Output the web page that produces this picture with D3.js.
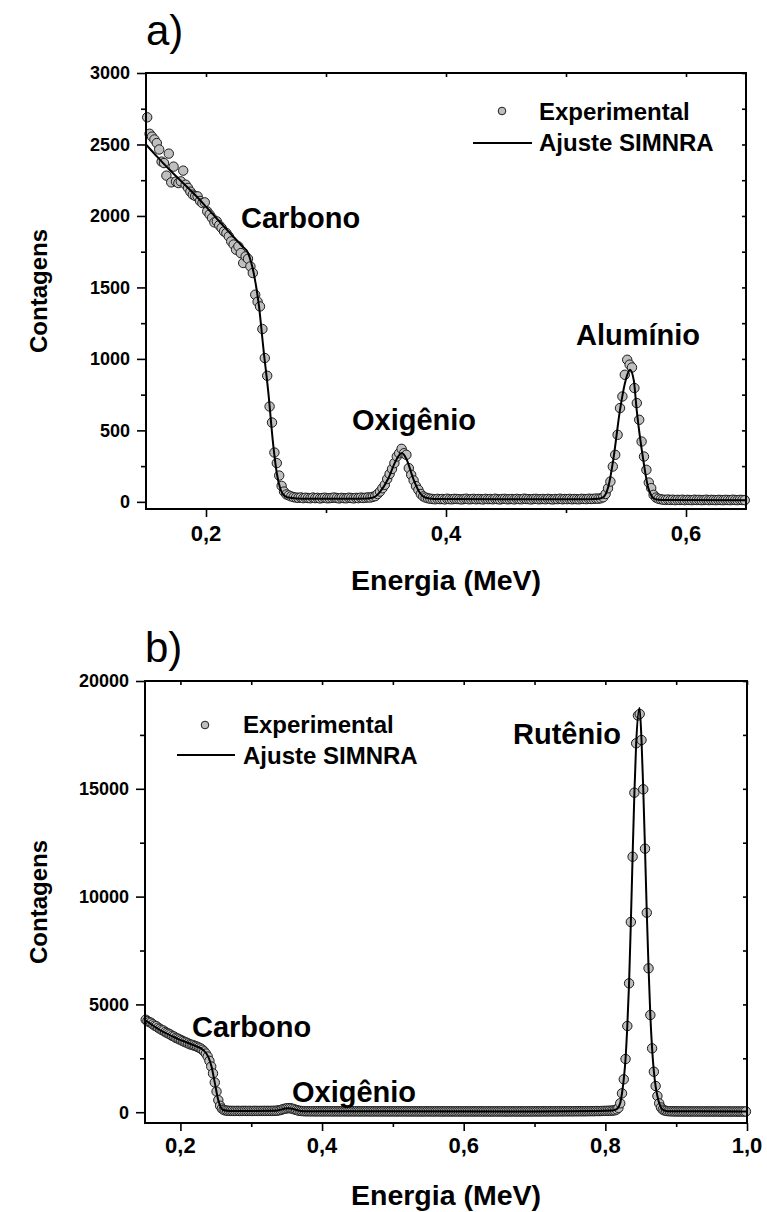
<!DOCTYPE html>
<html>
<head>
<meta charset="utf-8">
<script src="https://cdn.jsdelivr.net/npm/d3@7"></script>
<style>
  body { margin: 0; background: #fff; }
  svg { display: block; font-family: "Liberation Sans", Arial, Helvetica, sans-serif; }
</style>
</head>
<body>
<svg id="chart" width="767" height="1212"></svg>
<script>
// ---------- Spectrum a) : RBS counts per channel ----------
// channel energy calibration (MeV): E = start + step * channel
const specA_E0 = 0.151;
const specA_dE = 0.002;
const specA_counts = [
  2690, 2575, 2555, 2535, 2510, 2465, 2380, 2370, 2282, 2436,
  2235, 2345, 2240, 2230, 2242, 2317, 2219, 2196, 2170, 2149,
  2140, 2137, 2105, 2090, 2095, 2032, 2010, 1986, 1955, 1962,
  1935, 1916, 1892, 1880, 1857, 1822, 1800, 1764, 1787, 1740,
  1671, 1717, 1700, 1647, 1601, 1449, 1400, 1367, 1209, 1006,
  882, 667, 555, 345, 271, 184, 112, 72, 52, 45,
  38, 33, 30, 28, 31, 26, 29, 27, 25, 30,
  26, 28, 24, 27, 29, 25, 26, 28, 30, 27,
  24, 28, 26, 25, 29, 27, 24, 28, 26, 30,
  27, 29, 31, 30, 35,
  40, 55, 72, 95, 119,
  160, 195, 230, 271, 317, 340, 371, 340, 329, 236,
  189, 150, 110, 84, 55, 38, 30, 25, 22, 20,
  18, 21, 19, 20, 17, 22, 19, 18, 21, 20,
  19, 17, 20, 22, 18, 19, 21, 18, 20, 19,
  17, 21, 19, 20, 18, 22, 19, 17, 20, 21,
  18, 19, 20, 17, 21, 19, 18, 22, 20, 19,
  17, 20, 21, 18, 19, 20, 18, 21, 19, 17,
  20, 19, 22, 18, 20, 19, 21, 18, 20, 19,
  18, 21, 20, 19, 22, 20, 21, 23, 22,
  25, 32, 55, 95, 142, 247, 329, 469, 656, 737, 889,
  994, 960, 940, 796, 691, 574, 422, 317, 224, 135, 96, 49, 30, 22,
  18, 15, 14, 16, 13, 15,
  12, 14, 13, 15, 12, 14, 13, 12, 15, 13,
  14, 12, 13, 15, 12, 14, 13, 12, 14, 13,
  12, 14, 13, 12, 15, 13, 12, 14, 13, 12
];
// SIMNRA simulation a)
const fitA_E = [0.150, 0.160, 0.170, 0.180, 0.190, 0.200, 0.210, 0.220, 0.230, 0.235,
  0.240, 0.244, 0.248, 0.252, 0.256, 0.259, 0.262, 0.265, 0.270, 0.280,
  0.300, 0.320, 0.335, 0.340, 0.345, 0.352, 0.358, 0.3631, 0.367, 0.3728,
  0.378, 0.3825, 0.390, 0.450, 0.520, 0.527, 0.531, 0.5353, 0.5394, 0.545,
  0.550, 0.5533, 0.5565, 0.5589, 0.5644, 0.5686, 0.5742, 0.580, 0.650];
const fitA_counts = [2500, 2408, 2320, 2238, 2155, 2065, 1972, 1880, 1790, 1741,
  1590, 1380, 1060, 760, 400, 200, 90, 45, 28, 22,
  22, 22, 24, 32, 70, 165, 285, 341, 300, 160,
  65, 30, 20, 19, 19, 22, 32, 107, 294, 644,
  860, 924, 850, 644, 294, 96, 19, 13, 12];

// ---------- Spectrum b) ----------
const specB_E0 = 0.151;
const specB_dE = 0.0025;
const specB_counts = [
  4290, 4230, 4180, 4150, 4080, 4020, 3990, 3920, 3870, 3820,
  3790, 3720, 3680, 3640, 3600, 3540, 3510, 3450, 3420, 3380,
  3340, 3300, 3260, 3230, 3190, 3150, 3130, 3100, 3070, 3040,
  3000, 2960, 2900, 2820, 2720, 2580, 2380, 2120, 1800, 1380,
  960, 560, 300, 170, 110, 80, 70, 65, 60, 62,
  58, 60, 63, 57, 61, 59, 62, 58, 60, 61,
  57, 60, 62, 59, 58, 61, 60, 63, 59, 62,
  60, 62, 63, 66, 70, 85, 100, 125, 150, 170,
  185, 190, 180, 160, 130, 105, 80, 65, 55, 50,
  46, 44, 45, 43, 42, 44, 41, 43, 42, 40,
  42, 41, 43, 40, 42, 41, 39, 42, 40, 41,
  40, 42, 39, 41, 40, 38, 41, 40, 39, 42,
  40, 38, 41, 39, 40, 42, 38, 40, 39, 41,
  39, 40, 38, 41, 39, 40, 37, 39, 40, 38,
  40, 39, 37, 40, 38, 39, 41, 38, 39, 37,
  39, 38, 40, 37, 39, 38, 36, 39, 38, 40,
  37, 39, 38, 36, 38, 40, 37, 38, 36, 39,
  38, 37, 39, 36, 38, 37, 39, 36, 38, 37,
  36, 38, 37, 39, 36, 37, 38, 36, 39, 37,
  38, 36, 37, 38, 35, 37, 36, 38, 37, 36,
  37, 38, 36, 37, 35, 38, 36, 37, 38, 36,
  37, 35, 38, 36, 37, 39, 36, 38, 37, 39,
  38, 40, 37, 39, 41, 38, 40, 39, 42, 40,
  41, 43, 40, 42, 44, 41, 43, 45, 42, 44,
  46, 43, 45, 47, 44, 46, 48, 45, 47, 49,
  48, 50, 52, 49, 53, 55, 52, 56, 58, 60,
  62, 65, 68, 72, 80,
  90, 130, 200, 413, 876, 1526, 2467, 3998, 5979, 8822, 11850, 14820, 17110, 18400, 18470,
  17263, 14977, 12222, 9253, 6674, 4508, 2963, 1878, 1215, 751, 413, 220, 120, 80,
  60, 50, 45, 42, 40, 38,
  37, 36, 38, 35, 36, 37, 35, 36, 34, 36,
  35, 34, 36, 35, 33, 35, 34, 36, 33, 35,
  34, 33, 35, 34, 32, 34, 33, 35, 32, 34,
  33, 32, 34, 33, 31, 33, 32, 34, 31, 33
];
const fitB_E = [0.150, 0.171, 0.1947, 0.218, 0.2322, 0.2392, 0.244, 0.2487, 0.2534, 0.2605,
  0.270, 0.300, 0.335, 0.342, 0.348, 0.353, 0.358, 0.364, 0.370, 0.380,
  0.500, 0.700, 0.790, 0.810, 0.816, 0.821, 0.8235, 0.826, 0.8285, 0.831,
  0.8335, 0.836, 0.8385, 0.841, 0.8435, 0.8483, 0.851, 0.8535, 0.856, 0.8585,
  0.861, 0.8635, 0.866, 0.8685, 0.871, 0.8735, 0.876, 0.8785, 0.881, 0.888, 1.000];
const fitB_counts = [4277, 3813, 3428, 3117, 2885, 2574, 2110, 1340, 566, 102,
  62, 60, 70, 120, 170, 185, 160, 105, 60, 45,
  40, 37, 55, 75, 140, 430, 880, 1530, 2480, 4000,
  6000, 8800, 11900, 14800, 17100, 18750, 17300, 15000, 12200, 9250,
  6700, 4500, 2950, 1900, 1200, 750, 420, 220, 120, 50, 33];

// ---------- axis ticks & labels ----------
const ticksA_xMajor = [0.2, 0.4, 0.6];
const ticksA_xMinor = [0.3, 0.5];
const ticksA_yMajor = [0, 500, 1000, 1500, 2000, 2500, 3000];
const ticksA_yMinor = [250, 750, 1250, 1750, 2250, 2750];
const ticksB_xMajor = [0.2, 0.4, 0.6, 0.8, 1.0];
const ticksB_xMinor = [0.3, 0.5, 0.7, 0.9];
const ticksB_yMajor = [0, 5000, 10000, 15000, 20000];
const ticksB_yMinor = [2500, 7500, 12500, 17500];

const peaksA = ["Carbono", "Oxigênio", "Alumínio"];
const peaksB = ["Carbono", "Oxigênio", "Rutênio"];
const legendLabels = ["Experimental", "Ajuste SIMNRA"];

const svg = d3.select("#chart");
const fmtX = d => d3.format(".1f")(d).replace(".", ",");

function drawPanel(o) {
  const x = d3.scaleLinear().domain(o.xDomain).range([o.left, o.right]);
  const y = d3.scaleLinear().domain(o.yDomain).range([o.bottom, o.top]);
  const g = svg.append("g");

  const clean = sel => {
    sel.select(".domain").remove();
    sel.selectAll("text").remove();
    sel.selectAll("line").attr("stroke", "#000").attr("stroke-width", 1.6);
  };

  // outward ticks on left and bottom
  g.append("g").attr("transform", `translate(${o.left},0)`)
    .call(d3.axisLeft(y).tickValues(o.yMajor).tickSize(9).tickFormat("")).call(clean);
  g.append("g").attr("transform", `translate(${o.left},0)`)
    .call(d3.axisLeft(y).tickValues(o.yMinor).tickSize(5).tickFormat("")).call(clean);
  g.append("g").attr("transform", `translate(0,${o.bottom})`)
    .call(d3.axisBottom(x).tickValues(o.xMajor).tickSize(8).tickFormat("")).call(clean);
  g.append("g").attr("transform", `translate(0,${o.bottom})`)
    .call(d3.axisBottom(x).tickValues(o.xMinor).tickSize(4).tickFormat("")).call(clean);
  // inward ticks on top and right
  g.append("g").attr("transform", `translate(0,${o.top})`)
    .call(d3.axisTop(x).tickValues(o.xMajor.concat(o.xMinor)).tickSize(-4).tickFormat("")).call(clean);
  g.append("g").attr("transform", `translate(${o.right},0)`)
    .call(d3.axisRight(y).tickValues(o.yMajor.concat(o.yMinor)).tickSize(-4).tickFormat("")).call(clean);

  // tick labels
  g.append("g").selectAll("text").data(o.yMajor).join("text")
    .attr("x", o.left - 16).attr("y", d => y(d)).attr("dy", "0.36em")
    .attr("text-anchor", "end").attr("font-size", 18).attr("font-weight", "bold")
    .text(d => d);
  g.append("g").selectAll("text").data(o.xMajor).join("text")
    .attr("x", d => x(d)).attr("y", o.bottom + o.xLabelOffset)
    .attr("text-anchor", "middle").attr("font-size", 22).attr("font-weight", "bold")
    .text(fmtX);

  // axis titles
  g.append("text").attr("x", (o.left + o.right) / 2).attr("y", o.xTitleY)
    .attr("text-anchor", "middle").attr("font-size", 28.5).attr("font-weight", "bold")
    .text("Energia (MeV)");
  g.append("text")
    .attr("transform", `translate(47,${(o.top + o.bottom) / 2}) rotate(-90)`)
    .attr("text-anchor", "middle").attr("font-size", 24).attr("font-weight", "bold")
    .text("Contagens");

  // panel letter
  g.append("text").attr("x", o.left).attr("y", o.letterY)
    .attr("font-size", 42).text(o.letter);

  // experimental points
  const pts = o.counts.map((c, i) => ({ e: o.E0 + o.dE * i, c }));
  g.append("g").selectAll("circle").data(pts).join("circle")
    .attr("cx", d => x(d.e)).attr("cy", d => y(d.c)).attr("r", 4.7)
    .attr("fill", "#bfbfbf").attr("stroke", "#1c1c1c").attr("stroke-width", 1);

  // simulated spectrum
  const fit = o.fitE.map((e, i) => ({ e, c: o.fitC[i] }));
  g.append("path").datum(fit)
    .attr("d", d3.line().x(d => x(d.e)).y(d => y(d.c)).curve(d3.curveMonotoneX))
    .attr("fill", "none").attr("stroke", "#000").attr("stroke-width", 2);

  // frame
  g.append("rect").attr("x", o.left).attr("y", o.top)
    .attr("width", o.right - o.left).attr("height", o.bottom - o.top)
    .attr("fill", "none").attr("stroke", "#000").attr("stroke-width", 2);

  // element annotations
  g.append("g").selectAll("text").data(o.peaks).join("text")
    .attr("x", (d, i) => o.peakPos[i][0]).attr("y", (d, i) => o.peakPos[i][1])
    .attr("font-size", 29).attr("font-weight", "bold").text(d => d);

  // legend
  const L = o.legend;
  g.append("circle").attr("cx", L.cx).attr("cy", L.cy).attr("r", 3.8)
    .attr("fill", "#bfbfbf").attr("stroke", "#1c1c1c").attr("stroke-width", 1);
  g.append("line").attr("x1", L.x1).attr("x2", L.x2).attr("y1", L.ly).attr("y2", L.ly)
    .attr("stroke", "#000").attr("stroke-width", 2);
  g.append("g").selectAll("text").data(legendLabels).join("text")
    .attr("x", L.tx).attr("y", (d, i) => L.ty[i])
    .attr("font-size", 24).attr("font-weight", "bold").text(d => d);
}

drawPanel({
  left: 146, right: 746, top: 73, bottom: 509,
  xDomain: [0.15, 0.65], yDomain: [-50, 3000],
  xMajor: ticksA_xMajor, xMinor: ticksA_xMinor,
  yMajor: ticksA_yMajor, yMinor: ticksA_yMinor,
  xLabelOffset: 32, xTitleY: 590, letter: "a)", letterY: 45,
  E0: specA_E0, dE: specA_dE, counts: specA_counts,
  fitE: fitA_E, fitC: fitA_counts,
  peaks: peaksA, peakPos: [[241, 228], [352, 430], [576, 345]],
  legend: { cx: 502, cy: 111, x1: 473, x2: 532, ly: 143, tx: 539, ty: [120, 151] }
});

drawPanel({
  left: 145, right: 747, top: 681, bottom: 1123,
  xDomain: [0.15, 1.0], yDomain: [-500, 20000],
  xMajor: ticksB_xMajor, xMinor: ticksB_xMinor,
  yMajor: ticksB_yMajor, yMinor: ticksB_yMinor,
  xLabelOffset: 30, xTitleY: 1205, letter: "b)", letterY: 662,
  E0: specB_E0, dE: specB_dE, counts: specB_counts,
  fitE: fitB_E, fitC: fitB_counts,
  peaks: peaksB, peakPos: [[192, 1037], [292, 1102], [513, 744]],
  legend: { cx: 205, cy: 725, x1: 177, x2: 235, ly: 755, tx: 243, ty: [733, 764] }
});
</script>
</body>
</html>
